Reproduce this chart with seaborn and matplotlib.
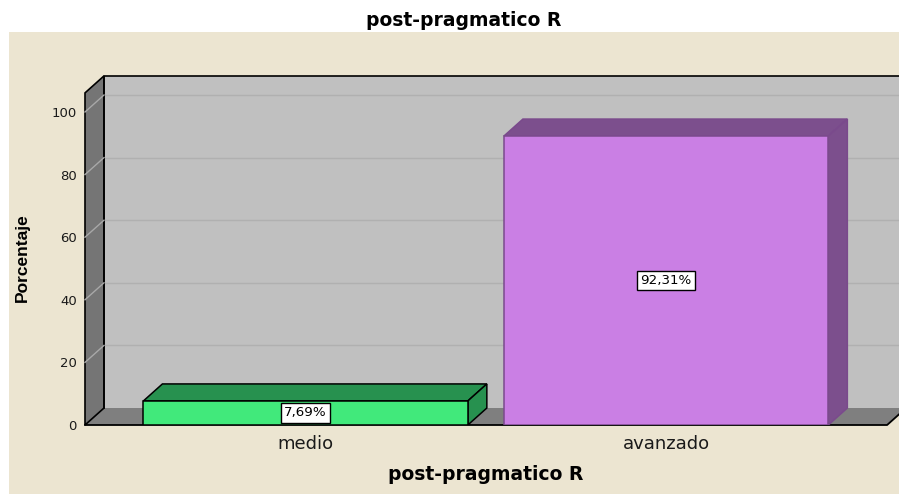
import numpy as np
import pandas as pd
import seaborn as sns
from matplotlib import pyplot as plt
from matplotlib import font_manager
from matplotlib.patches import Polygon, Rectangle

# data -->
categories = ['medio', 'avanzado']
percent = [7.69, 92.31]
yticks = [0, 20, 40, 60, 80, 100]
title = 'post-pragmatico R'
ylabel = 'Porcentaje'

front_colors = ['#41E97B', '#CA7FE4']
dark_colors = ['#27914F', '#7C4F8D']
edge_colors = ['#000000', '#7A4A8C']

df = pd.DataFrame({'cat': categories, 'pct': percent})

# figure / layout (pixel based) -->
W, H = 899, 494
fig = plt.figure(figsize=(W / 100, H / 100), dpi=100, facecolor='white')
fig.patches.append(Rectangle((9 / W, 0), 1 - 9 / W, (H - 32) / H,
                             transform=fig.transFigure, fc='#ECE5D1', ec='none', zorder=-5))

ax_left, ax_bottom, ax_top = 85, 425, 76
ax = fig.add_axes([ax_left / W, (H - ax_bottom) / H, (W - ax_left) / W, (ax_bottom - ax_top) / H])
ax.set_facecolor('none')

# front faces of the bars
sns.barplot(data=df, x='cat', y='pct', hue='cat', palette=front_colors, width=0.9,
            legend=False, ax=ax, saturation=1, zorder=3)

x0, x1 = -0.612, 1.646
y1 = 111.5
ax.set_xlim(x0, x1)
ax.set_ylim(0, y1)

DX, DY = 0.0527, 5.43   # oblique depth in data units
wall_top = 106.1
floor_right = 1.613

# back wall
ax.add_patch(Rectangle((x0 + DX, DY), 3, wall_top, fc='#C0C0C0', ec='none', zorder=0.5, clip_on=False))
ax.plot([x0 + DX, x0 + DX, x1 + 1], [DY, wall_top + DY, wall_top + DY], color='black', lw=1.2,
        zorder=0.9, clip_on=False)
for t in yticks[1:]:
    ax.plot([x0 + DX, x1 + 1], [t + DY, t + DY], color='#B0B0B0', lw=1.0, zorder=0.6)
    ax.plot([x0, x0 + DX], [t, t + DY], color='#A8A8A8', lw=1.0, zorder=0.95, clip_on=False)

# floor
ax.add_patch(Polygon([(x0, 0), (floor_right, 0), (floor_right + DX, DY), (x0 + DX, DY)],
                     closed=True, fc='#7F7F7F', ec='none', zorder=0.7, clip_on=False))
ax.plot([x0, floor_right, floor_right + DX], [0, 0, DY], color='black', lw=1.3, zorder=1, clip_on=False)

# left side wall
ax.add_patch(Polygon([(x0, 0), (x0, wall_top), (x0 + DX, wall_top + DY), (x0 + DX, DY)],
                     closed=True, fc='#757575', ec='black', lw=1.2, zorder=0.8, clip_on=False))

# 3d sides / tops of the bars
bars = [c[0] for c in ax.containers]
for i, p in enumerate(bars):
    x, w, h = p.get_x(), p.get_width(), p.get_height()
    p.set_edgecolor(edge_colors[i])
    p.set_linewidth(1.1)
    top = [(x, h), (x + DX, h + DY), (x + w + DX, h + DY), (x + w, h)]
    side = [(x + w, 0), (x + w + DX, DY), (x + w + DX, h + DY), (x + w, h)]
    for poly in (top, side):
        ax.add_patch(Polygon(poly, closed=True, fc=dark_colors[i], ec=edge_colors[i], lw=1.1, zorder=2.5))
    lab = f'{percent[i]:.2f}%'.replace('.', ',')
    ax.text(x + w / 2, h / 2, lab, ha='center', va='center', fontsize=9.6, family='DejaVu Sans',
            bbox=dict(boxstyle='square,pad=0.25', fc='white', ec='black', lw=1.0), zorder=5)

# axes / ticks -->
for s in ax.spines.values():
    s.set_visible(False)
ax.set_yticks(yticks)
ax.tick_params(axis='y', length=0, pad=5.8, labelsize=9.5, labelcolor='#1a1a1a')
ax.tick_params(axis='x', length=0, pad=7, labelsize=13, labelcolor='#1a1a1a')
ax.set_xlabel('')
ax.set_ylabel('')
ax.grid(False)

# texts -->
fig.text(464 / W, 1 - 20 / H, title, ha='center', va='center', fontsize=13.5,
         fontweight='bold', family='DejaVu Sans')
fig.text(486 / W, 1 - 474 / H, title, ha='center', va='center', fontsize=13.5,
         fontweight='bold', family='DejaVu Sans')

names = {f.name for f in font_manager.fontManager.ttflist}
if 'Liberation Sans Narrow' in names:
    yl_font, yl_size = 'Liberation Sans Narrow', 15
else:
    yl_font, yl_size = 'Liberation Sans', 12.5
fig.text(22 / W, 1 - 258 / H, ylabel, ha='center', va='center', rotation=90,
         fontsize=yl_size, fontweight='bold', family=yl_font)

fig.savefig('out.png', dpi=100, facecolor=fig.get_facecolor())
